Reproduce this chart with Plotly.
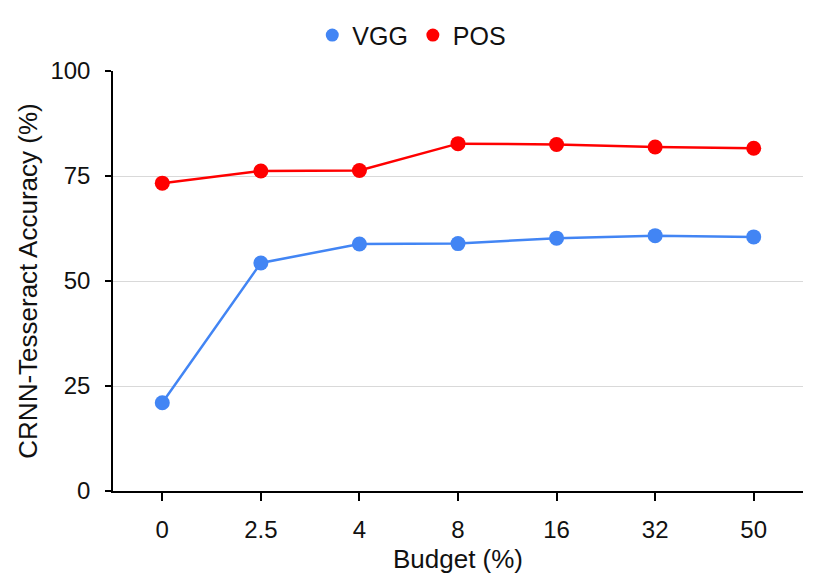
import plotly.graph_objects as go

budget = ["0", "2.5", "4", "8", "16", "32", "50"]
vgg = [21.0, 54.3, 58.8, 58.9, 60.2, 60.8, 60.5]
pos = [73.3, 76.2, 76.3, 82.7, 82.5, 81.9, 81.6]

font_name = "Liberation Sans, Arial, sans-serif"
blue = "#4285F4"
red = "#FF0000"

fig = go.Figure()
fig.add_trace(go.Scatter(x=budget, y=vgg, name="VGG", mode="lines+markers",
                         line=dict(color=blue, width=2.5),
                         marker=dict(color=blue, size=15), showlegend=False))
fig.add_trace(go.Scatter(x=budget, y=pos, name="POS", mode="lines+markers",
                         line=dict(color=red, width=2.5),
                         marker=dict(color=red, size=15), showlegend=False))
# legend shows dots only
fig.add_trace(go.Scatter(x=[None], y=[None], name="VGG", mode="markers",
                         marker=dict(color=blue, size=13)))
fig.add_trace(go.Scatter(x=[None], y=[None], name="POS", mode="markers",
                         marker=dict(color=red, size=13)))

fig.update_layout(
    width=830, height=573,
    margin=dict(l=105, r=35, t=63, b=90, autoexpand=False),
    plot_bgcolor="white", paper_bgcolor="white",
    font=dict(family=font_name, size=24, color="#111111"),
    legend=dict(orientation="h", x=0.433, xanchor="center", y=1.085, yanchor="middle",
                font=dict(size=25), itemwidth=30, traceorder="normal"),
)
fig.update_xaxes(
    type="category", range=[-0.5, 6.5],
    showline=True, linecolor="black", linewidth=1.5,
    ticks="outside", ticklen=8, tickcolor="black", tickwidth=1.5,
    showgrid=False, ticklabelstandoff=8,
    title=dict(text="Budget (%)", font=dict(size=26), standoff=8),
)
fig.update_yaxes(
    range=[0, 100], tickvals=[0, 25, 50, 75, 100],
    showline=True, linecolor="black", linewidth=1.5,
    ticks="outside", ticklen=6, tickcolor="black", tickwidth=2,
    showgrid=True, gridcolor="#d9d9d9", gridwidth=1.2,
    zeroline=False, ticklabelstandoff=10,
    title=dict(text="CRNN-Tesseract Accuracy (%)", font=dict(size=26), standoff=5),
)

fig.write_html("out.html")
